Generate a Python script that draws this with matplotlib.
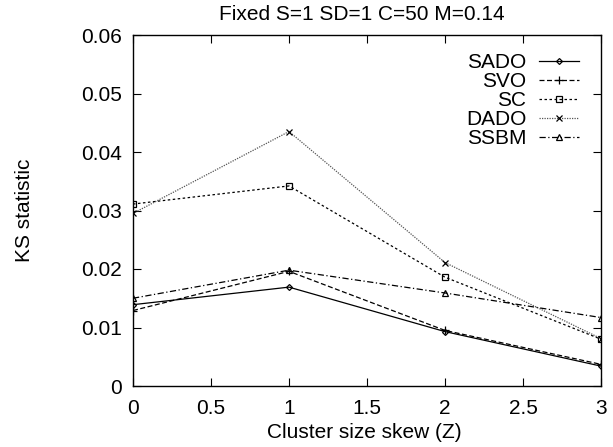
import matplotlib
matplotlib.use("Agg")
import matplotlib.pyplot as plt

plt.rcParams["font.family"] = ["Liberation Sans", "DejaVu Sans"]

skew = [0, 1, 2, 3]
sado = [0.0139, 0.0169, 0.0093, 0.0034]
svo = [0.0129, 0.0196, 0.0095, 0.0037]
sc = [0.0311, 0.0342, 0.0186, 0.0080]
dado = [0.0295, 0.0435, 0.0211, 0.0081]
ssbm = [0.0150, 0.0198, 0.0159, 0.0117]

xticks = [0, 0.5, 1, 1.5, 2, 2.5, 3]
xticklabels = ["0", "0.5", "1", "1.5", "2", "2.5", "3"]
yticks = [0, 0.01, 0.02, 0.03, 0.04, 0.05, 0.06]
yticklabels = ["0", "0.01", "0.02", "0.03", "0.04", "0.05", "0.06"]

# style gnuplot: noir, marqueurs creux, pointillés variés
series = [
    ("SADO", sado, dict(ls="-", marker="D", ms=3, color="black")),
    ("SVO", svo, dict(ls=(0, (4, 2)), marker="+", ms=6, color="black")),
    ("SC", sc, dict(ls=(0, (2, 2)), marker="s", ms=5, color="black")),
    ("DADO", dado, dict(ls=(0, (1, 1)), marker="x", ms=5, color="#555555")),
    ("SSBM", ssbm, dict(ls=(0, (5, 2, 1, 2)), marker="^", ms=5, color="black")),
]

FS = 15
fig = plt.figure(figsize=(6.13, 4.47), dpi=100)
ax = fig.add_axes([133 / 613, 1 - 386 / 447, 468 / 613, 351 / 447])

for name, vals, st in series:
    ax.plot(skew, vals, label=name, lw=0.9, mfc="none", mec="black", mew=0.9, **st)

ax.set_xlim(0, 3)
ax.set_ylim(0, 0.06)
ax.set_xticks(xticks)
ax.set_xticklabels(xticklabels)
ax.set_yticks(yticks)
ax.set_yticklabels(yticklabels)
ax.tick_params(direction="in", length=6, width=0.8, top=True, right=True, labelsize=FS)
ax.tick_params(axis="x", pad=9)
ax.tick_params(axis="y", pad=8)
for sp in ax.spines.values():
    sp.set_linewidth(1.0)

fig.text(364 / 613, 1 - 438 / 447, "Cluster size skew (Z)", fontsize=FS,
         ha="center", va="baseline")
fig.text(25 / 613, 1 - 210 / 447, "KS statistic", fontsize=FS,
         rotation=90, ha="center", va="center")
fig.text(362 / 613, 1 - 20 / 447, "Fixed S=1 SD=1 C=50 M=0.14", fontsize=FS,
         ha="center", va="baseline")

ax.legend(loc="upper right", frameon=False, fontsize=FS, markerfirst=False,
          handlelength=1.9, handletextpad=0.6, labelspacing=0.0,
          borderaxespad=0.0, bbox_to_anchor=(0.970, 0.9715))

fig.savefig("out.png", dpi=100)
